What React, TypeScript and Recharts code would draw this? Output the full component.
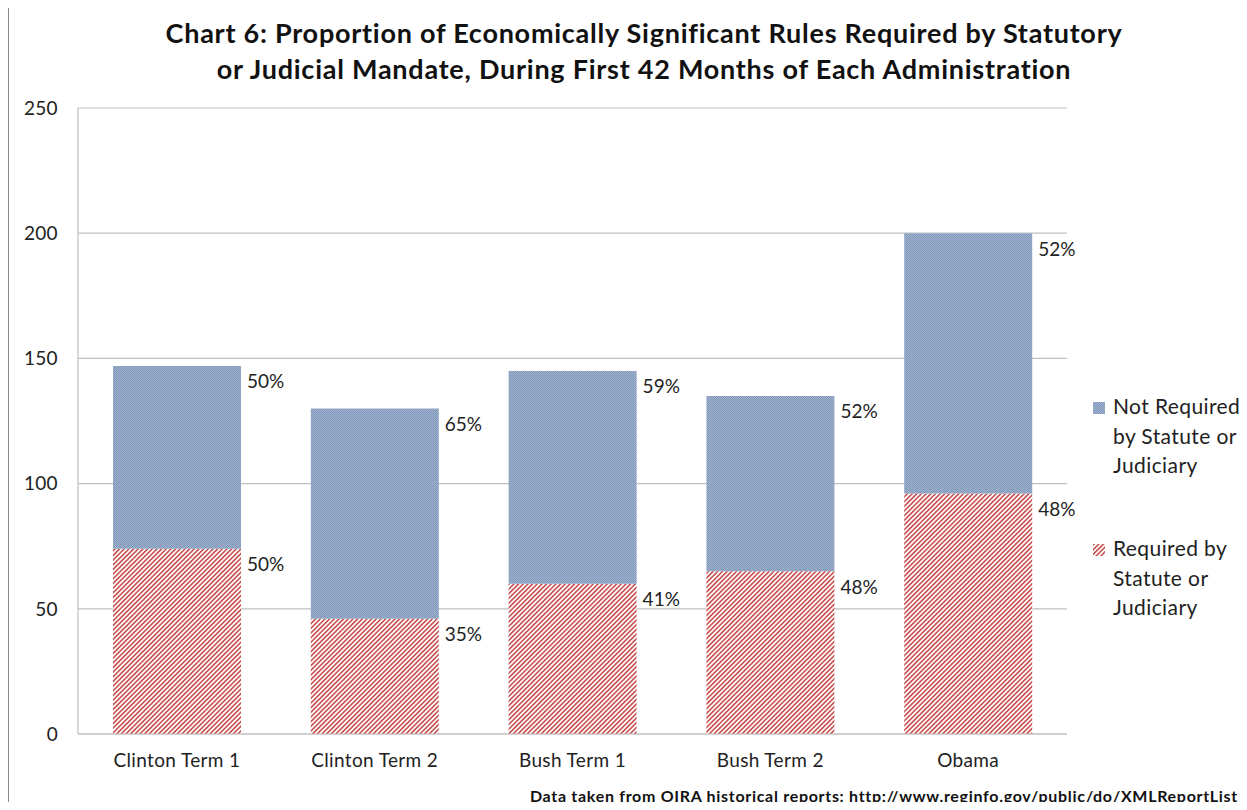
import React from "react";
import { BarChart, Bar, XAxis, YAxis, CartesianGrid, LabelList } from "recharts";

const categories = ["Clinton Term 1", "Clinton Term 2", "Bush Term 1", "Bush Term 2", "Obama"];
const requiredRules = [74, 46, 60, 65, 96];
const notRequiredRules = [73, 84, 85, 70, 104];
const requiredPct = [50, 35, 41, 48, 48];
const notRequiredPct = [50, 65, 59, 52, 52];
const yTicks = [0, 50, 100, 150, 200, 250];

const data = categories.map((name, i) => ({
  name,
  required: requiredRules[i],
  notRequired: notRequiredRules[i],
}));

const FONT = "Lato, 'Open Sans', sans-serif";
const BLUE_A = "#7f97ba";
const BLUE_B = "#a1b3cc";
const RED = "#c8504f";

function Patterns({ prefix }: { prefix: string }) {
  return (
    <defs>
      <pattern id={`${prefix}-blue`} width="2" height="2" patternUnits="userSpaceOnUse">
        <rect width="2" height="2" fill={BLUE_B} />
        <rect width="1" height="1" fill={BLUE_A} />
        <rect x="1" y="1" width="1" height="1" fill={BLUE_A} />
      </pattern>
      <pattern
        id={`${prefix}-red`}
        width="3.3"
        height="3.3"
        patternUnits="userSpaceOnUse"
        patternTransform="rotate(45)"
      >
        <rect width="3.3" height="3.3" fill="#ffffff" />
        <rect width="1.6" height="3.3" fill={RED} />
      </pattern>
    </defs>
  );
}

const pctLabel = (pcts: number[]) => (props: any) => {
  const { x, y, width, index } = props;
  return (
    <text
      x={Number(x) + Number(width) + 6}
      y={Number(y) + 15}
      fontSize={19}
      fontFamily={FONT}
      fill="#222"
      dominantBaseline="central"
    >
      {pcts[index]}%
    </text>
  );
};

function LegendIcon({ kind }: { kind: "blue" | "red" }) {
  return (
    <svg width="12" height="12" style={{ position: "absolute", left: -20, top: 11 }}>
      <Patterns prefix={`lg-${kind}`} />
      <rect width="12" height="12" fill={`url(#lg-${kind}-${kind})`} />
    </svg>
  );
}

const legendStyle: React.CSSProperties = {
  position: "absolute",
  left: 1113,
  fontSize: 21,
  letterSpacing: 0.4,
  lineHeight: "29.5px",
  color: "#222",
  whiteSpace: "nowrap",
};

const tickStyle = { fontSize: 19, fill: "#222", fontFamily: FONT, letterSpacing: 0.35 };

export default function App() {
  return (
    <div style={{ position: "relative", margin: -8, width: 1247, height: 810, overflow: "hidden", background: "#fff", fontFamily: FONT }}>
      <div
        style={{
          position: "absolute",
          left: 8,
          top: 6,
          width: 1260,
          height: 820,
          borderLeft: "1.5px solid #8a8a8a",
          borderTop: "1.5px solid #8a8a8a",
        }}
      />
      <div
        style={{
          position: "absolute",
          left: 144,
          width: 1000,
          top: 15,
          textAlign: "center",
          fontWeight: 700,
          fontSize: 27,
          letterSpacing: 0.75,
          lineHeight: "36px",
          color: "#111",
          whiteSpace: "nowrap",
        }}
      >
        Chart 6: Proportion of Economically Significant Rules Required by Statutory
        <br />
        or Judicial Mandate, During First 42 Months of Each Administration
      </div>
      <div style={{ position: "absolute", left: 0, top: 0 }}>
        <BarChart
          width={1247}
          height={810}
          data={data}
          margin={{ top: 108, right: 180, bottom: 46, left: 18 }}
          barCategoryGap="17.7%"
        >
          <Patterns prefix="ch" />
          <CartesianGrid vertical={false} stroke="#bfbfbf" strokeWidth={1.2} />
          <XAxis
            dataKey="name"
            height={30}
            tickLine={false}
            tickSize={0}
            tickMargin={20}
            axisLine={{ stroke: "#bfbfbf", strokeWidth: 1.2 }}
            tick={tickStyle}
          />
          <YAxis
            width={60}
            domain={[0, 250]}
            ticks={yTicks}
            tickLine={false}
            tickSize={0}
            tickMargin={20}
            axisLine={{ stroke: "#bfbfbf", strokeWidth: 1.2 }}
            tick={tickStyle}
          />
          <Bar dataKey="required" stackId="a" fill="url(#ch-red)" isAnimationActive={false}>
            <LabelList dataKey="required" content={pctLabel(requiredPct)} />
          </Bar>
          <Bar dataKey="notRequired" stackId="a" fill="url(#ch-blue)" isAnimationActive={false}>
            <LabelList dataKey="notRequired" content={pctLabel(notRequiredPct)} />
          </Bar>
        </BarChart>
      </div>
      <div style={{ ...legendStyle, top: 391 }}>
        <LegendIcon kind="blue" />
        Not Required
        <br />
        by Statute or
        <br />
        Judiciary
      </div>
      <div style={{ ...legendStyle, top: 533 }}>
        <LegendIcon kind="red" />
        Required by
        <br />
        Statute or
        <br />
        Judiciary
      </div>
      <div
        style={{
          position: "absolute",
          right: 9,
          top: 786,
          fontSize: 16,
          letterSpacing: 0.7,
          fontWeight: 700,
          color: "#111",
          whiteSpace: "nowrap",
        }}
      >
        Data taken from OIRA historical reports: http://www.reginfo.gov/public/do/XMLReportList
      </div>
    </div>
  );
}
